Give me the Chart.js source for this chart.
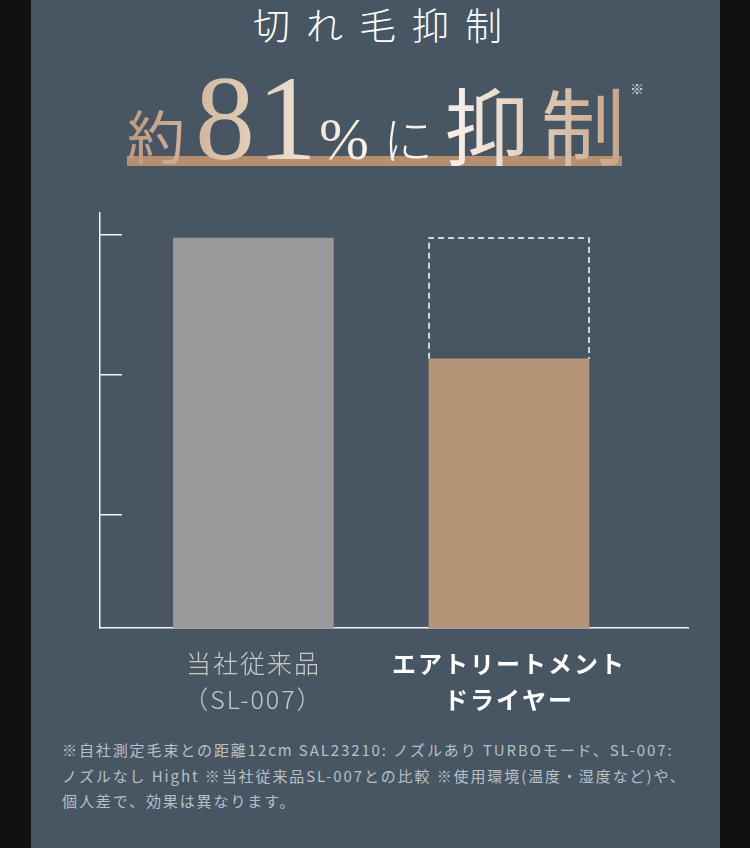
<!DOCTYPE html>
<html>
<head>
<meta charset="utf-8">
<script src="https://cdn.jsdelivr.net/npm/chart.js@4"></script>
<style>
html, body { margin: 0; padding: 0; width: 750px; height: 848px; overflow: hidden; background: #111; }
#panel { position: absolute; left: 31px; top: 0; width: 689px; height: 848px; background: #485663; }
#title { position: absolute; left: 222px; top: -3px; color: #fff; font: 300 37px "Noto Sans CJK JP"; letter-spacing: 16px; white-space: nowrap; }
#bar { position: absolute; left: 96px; top: 156px; width: 495px; height: 10px; background: #b58f70; }
#head { position: absolute; left: 96px; top: 50px; width: 495px; text-align: center; white-space: nowrap;
  background: linear-gradient(90deg, #bd9a7c 0%, #e2cdb8 25%, #fbf6f0 50%, #f5ece2 68%, #c7a588 100%);
  -webkit-background-clip: text; background-clip: text; color: transparent; }
#head span { display: inline-block; vertical-align: baseline; }
.k1 { font: 400 58px "Noto Sans CJK JP"; margin-right: 10px; }
.num { font: 400 120px "Liberation Serif"; letter-spacing: 2px; }
.pc { font: 400 60px "Liberation Serif"; margin-left: 0; }
.ni { font: 300 50px "Noto Sans CJK JP"; margin: 0 12px 0 14px; }
.big { font: 400 84px "Noto Sans CJK JP"; letter-spacing: 12px; margin-right: -12px; }
#mark { position: absolute; left: 599px; top: 78px; color: #e6e6e6; font: 300 14px "Noto Sans CJK JP"; }
#wrap { position: absolute; left: 0; top: 200px; width: 689px; height: 530px; }
#note { position: absolute; left: 31px; top: 737px; width: 670px; color: #b9c0c7; font: 400 15px "Noto Sans CJK JP"; line-height: 25.5px; letter-spacing: 1.9px; white-space: nowrap; }
</style>
</head>
<body>
<div id="panel">
  <div id="title">切れ毛抑制</div>
  <div id="bar"></div>
  <div id="head"><span class="k1">約</span><span class="num">81</span><span class="pc">%</span><span class="ni">に</span><span class="big">抑制</span></div>
  <div id="mark">※</div>
  <div id="wrap"><canvas id="chart"></canvas></div>
  <div id="note">※自社測定毛束との距離12cm SAL23210: ノズルあり TURBOモード、SL-007:<br>ノズルなし Hight ※当社従来品SL-007との比較 ※使用環境(温度・湿度など)や、<br>個人差で、効果は異なります。</div>
</div>
<script>
'use strict';

const categories = [['当社従来品', '（SL-007）'], ['エアトリートメント', 'ドライヤー']]
const positions = [1, 2]
const values = [100, 69]
const referenceValues = [null, 100]
const yTicks = [29, 65, 100.8]

// dashed outline for the "before" level, from the reference top down to the real bar top
const dashedBox = {
    id: 'dashedBox',
    beforeDraw(chart) {
        chart.ctx.letterSpacing = '2px'
    },
    afterDatasetsDraw(chart) {
        const real = chart.getDatasetMeta(0)
        const meta = chart.getDatasetMeta(1)
        const ctx = chart.ctx
        ctx.save()
        ctx.setLineDash([6, 4])
        ctx.strokeStyle = '#ffffff'
        ctx.lineWidth = 1.5
        meta.data.forEach((bar, i) => {
            if (referenceValues[i] == null) return
            const p = bar.getProps(['x', 'y', 'width'], true)
            const bottom = real.data[i].getProps(['y'], true).y
            const l = p.x - p.width / 2, r = p.x + p.width / 2
            ctx.beginPath()
            ctx.moveTo(l, bottom)
            ctx.lineTo(l, p.y)
            ctx.lineTo(r, p.y)
            ctx.lineTo(r, bottom)
            ctx.stroke()
        })
        ctx.restore()
    }
}

function renderChart() {
    const data = {
        datasets: [
            {
                label: 'value',
                data: positions.map((x, i) => ({ x: x, y: values[i] })),
                backgroundColor: ['#999999', '#b59478'],
                borderWidth: 0,
                barThickness: 160,
                grouped: false,
                order: 1,
            },
            {
                label: 'reference',
                data: positions.map((x, i) => ({ x: x, y: referenceValues[i] })),
                backgroundColor: 'rgba(0,0,0,0)',
                borderWidth: 0,
                barThickness: 160,
                grouped: false,
                order: 2,
            },
        ]
    }

    const config = {
        type: 'bar',
        data: data,
        plugins: [dashedBox],
        options: {
            responsive: true,
            maintainAspectRatio: false,
            animation: false,
            layout: { padding: { left: 69, right: 32, top: 13, bottom: 2 } },
            plugins: { legend: { display: false }, tooltip: { enabled: false } },
            scales: {
                x: {
                    type: 'linear',
                    offset: false,
                    min: 0.4,
                    max: 2.7,
                    afterBuildTicks: s => { s.ticks = positions.map(v => ({ value: v })) },
                    afterFit: s => { s.height = 100 },
                    grid: { display: false, drawTicks: false, offset: false },
                    border: { display: true, color: '#f2f2f2', width: 1.5 },
                    ticks: {
                        padding: 18,
                        maxRotation: 0,
                        autoSkip: false,
                        callback: (v, i) => categories[i],
                        color: c => c.index === 0 ? '#c9c9c9' : '#ffffff',
                        font: c => c.index === 0
                            ? { family: 'Noto Sans CJK JP', size: 25, weight: '300', lineHeight: 1.42 }
                            : { family: 'Noto Sans CJK JP', size: 24, weight: 'bold', lineHeight: 1.5 },
                    },
                },
                y: {
                    min: 0,
                    max: 106.4,
                    afterBuildTicks: s => { s.ticks = yTicks.map(v => ({ value: v })) },
                    afterFit: s => { s.width = 0 },
                    grid: { drawOnChartArea: false, drawTicks: true, tickLength: -22, color: '#f2f2f2', lineWidth: 1.5 },
                    border: { display: true, color: '#f2f2f2', width: 1.5 },
                    ticks: { display: false },
                },
            },
        },
    }

    const resultChart = new Chart(document.getElementById('chart'), config)
}

renderChart()
</script>
</body>
</html>
